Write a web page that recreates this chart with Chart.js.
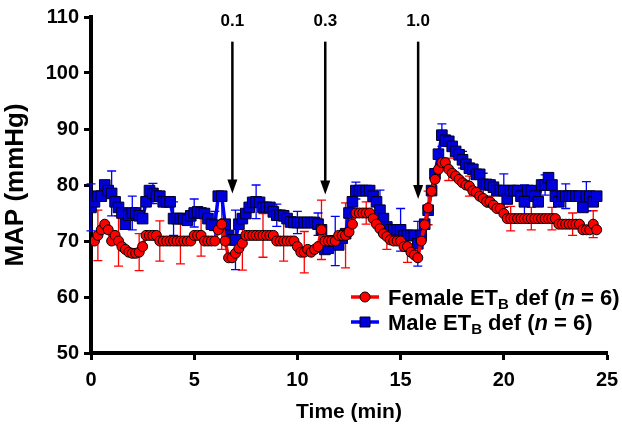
<!DOCTYPE html>
<html>
<head>
<meta charset="utf-8">
<script src="https://cdn.jsdelivr.net/npm/chart.js@4.4.0/dist/chart.umd.min.js"></script>
<style>
    html, body { margin: 0; padding: 0; background: #fff; }
    #wrap { width: 622px; height: 431px; }
</style>
</head>
<body>
<div id="wrap"><canvas id="mapChart" width="622" height="431"></canvas></div>
<script>
    'use strict';

    // MAP readings every 10 s (1/6 min)
    const femaleMap = [
        70, 70, 71, 72, 73, 72, 70, 71, 70, 69, 68.5, 68,
        67.8, 67.8, 68, 69, 71, 71, 71, 71, 70, 70, 70, 70,
        70, 70, 70, 70, 70, 70, 71, 71, 71, 70, 70, 70,
        70, 72, 73, 70, 67, 67, 67.8, 68.7, 69.6, 71, 71, 71,
        71, 71, 71, 71, 71, 71, 70, 70, 70, 70, 70, 70,
        69, 68, 68, 68.5, 68, 68.5, 69, 72, 70, 70, 70, 70,
        71, 71, 71, 71.6, 73, 75, 75, 75, 75, 75, 74, 73,
        72.2, 71.3, 70.8, 70.2, 70, 70, 70, 69, 69, 68, 67.5, 67,
        70, 72.9, 75.9, 78.9, 81, 82.8, 84, 84, 82.8, 82.1, 81.6, 81,
        80.4, 80, 79.8, 79, 78.7, 78, 77.6, 77, 77, 76.4, 75.8, 75.8,
        74.9, 74, 74, 74, 74, 74, 74, 74, 74, 74, 74, 74,
        74, 74, 74, 74, 73, 73, 73, 73, 73, 73, 73, 72,
        72, 72, 73, 72
    ];
    const maleMap = [
        76, 77, 78, 78, 80, 79, 78.5, 77, 76, 75, 73, 74.6,
        75, 75, 74.5, 74, 77, 79, 78.5, 78, 78, 77, 77, 77,
        74, 74, 74, 74, 73.7, 74.5, 75, 75.2, 75, 74.9, 74, 73,
        72.8, 78, 78, 73, 71, 70.2, 70.2, 73, 74, 74.9, 76, 76.9,
        77, 76.9, 76, 76, 76, 75.2, 74.6, 74.6, 74.5, 74, 73.4, 73.3,
        73.3, 73.3, 73.3, 73.3, 73.3, 73.3, 73, 72, 68.5, 68.7, 70, 70,
        69.3, 70.5, 71.3, 75, 77, 79, 79, 79, 79, 79, 78, 77,
        75.5, 74, 72.5, 72, 72, 72, 72, 71, 71, 71, 71, 69.5,
        71, 73, 75.5, 79, 82, 85.5, 88.9, 88, 87.8, 86.9, 86, 85.4,
        84.5, 83.7, 83, 82.8, 81.9, 81.9, 80.1, 80.1, 80, 79.6, 79, 79,
        79, 77.5, 79, 79, 79, 78, 77, 79, 79, 78, 77, 80,
        80, 81.3, 80, 78, 77, 78, 78, 78, 78, 78, 78, 76,
        78, 78, 77, 78
    ];
    const sampleStep = 1 / 6; // minutes between readings

    // SEM bars are only drawn on some readings (index into the series above)
    const femaleSemIdx = [2, 8, 14, 20, 26, 32, 38, 44, 50, 56, 62, 67, 74, 80, 86, 92, 98, 104, 110, 116, 122, 128, 134, 140, 146];
    const femaleSem = [4.5, 4.5, 3.3, 3.6, 4.1, 3.7, 4.5, 4.8, 3.9, 3.6, 3.7, 5.3, 5.8, 2, 2.3, 2.8, 3, 2, 1.8, 1, 2.2, 2, 2, 2, 2.4];
    const maleSemIdx = [0, 6, 12, 18, 24, 30, 36, 42, 48, 54, 60, 66, 71, 77, 84, 90, 95, 102, 108, 114, 120, 126, 132, 138, 144];
    const maleSem = [4.2, 4, 3, 1.8, 3, 2.5, 2.5, 5.3, 3, 2, 2, 2, 4.4, 1.5, 3.6, 3.8, 4, 2, 1.5, 2, 3, 3, 1.8, 2.2, 2.6];

    // Dose arrows (time in min, arrow tip in mmHg)
    const doseLabels = ['0.1', '0.3', '1.0'];
    const doseTimes = [6.85, 11.35, 15.85];
    const doseTips = [78.5, 78.3, 77.5];

    const xTicks = [0, 5, 10, 15, 20, 25];
    const yTicks = [50, 60, 70, 80, 90, 100, 110];

    const FONT = '"Liberation Sans", Arial, sans-serif';

    function toPoints(values) {
        return values.map(function(v, i) { return { x: i * sampleStep, y: v }; });
    }

    const errorBarPlugin = {
        id: 'errorBars',
        beforeDatasetsDraw: function(chart) {
            const ctx = chart.ctx;
            const xs = chart.scales.x;
            const ys = chart.scales.y;
            chart.data.datasets.forEach(function(ds) {
                ctx.save();
                ctx.strokeStyle = ds.barColor;
                ctx.lineWidth = 1.3;
                ds.semIdx.forEach(function(idx, j) {
                    const p = ds.data[idx];
                    const px = xs.getPixelForValue(p.x);
                    const top = ys.getPixelForValue(p.y + ds.sem[j]);
                    const bot = ys.getPixelForValue(p.y - ds.sem[j]);
                    ctx.beginPath();
                    ctx.moveTo(px, top); ctx.lineTo(px, bot);
                    ctx.moveTo(px - 4.5, top); ctx.lineTo(px + 4.5, top);
                    ctx.moveTo(px - 4.5, bot); ctx.lineTo(px + 4.5, bot);
                    ctx.stroke();
                });
                ctx.restore();
            });
        }
    };

    const arrowPlugin = {
        id: 'doseArrows',
        afterDraw: function(chart) {
            const ctx = chart.ctx;
            const xs = chart.scales.x;
            const ys = chart.scales.y;
            ctx.save();
            ctx.fillStyle = '#000';
            ctx.strokeStyle = '#000';
            ctx.lineWidth = 2.5;
            ctx.font = 'bold 17px ' + FONT;
            ctx.textAlign = 'center';
            ctx.textBaseline = 'alphabetic';
            doseTimes.forEach(function(t, i) {
                const px = xs.getPixelForValue(t);
                const tip = ys.getPixelForValue(doseTips[i]);
                const start = ys.getPixelForValue(105.6);
                ctx.beginPath();
                ctx.moveTo(px, start);
                ctx.lineTo(px, tip - 12);
                ctx.stroke();
                ctx.beginPath();
                ctx.moveTo(px - 5, tip - 14);
                ctx.lineTo(px + 5, tip - 14);
                ctx.lineTo(px, tip);
                ctx.closePath();
                ctx.fill();
                ctx.fillText(doseLabels[i], px, ys.getPixelForValue(108.4));
            });
            ctx.restore();
        }
    };

    // legend drawn by hand for the subscript B and italic n
    const legendPlugin = {
        id: 'subLegend',
        afterDraw: function(chart) {
            const ctx = chart.ctx;
            const rows = [
                { ds: chart.data.datasets[0], head: 'Female ET', y: 297 },
                { ds: chart.data.datasets[1], head: 'Male ET', y: 322 }
            ];
            ctx.save();
            rows.forEach(function(row) {
                ctx.strokeStyle = row.ds.borderColor;
                ctx.lineWidth = 3.5;
                ctx.beginPath();
                ctx.moveTo(351, row.y); ctx.lineTo(379, row.y);
                ctx.stroke();
                ctx.fillStyle = row.ds.pointBackgroundColor;
                ctx.strokeStyle = row.ds.pointBorderColor;
                ctx.lineWidth = 1;
                ctx.beginPath();
                if (row.ds.pointStyle === 'rect') {
                    ctx.rect(360, row.y - 5, 10, 10);
                } else {
                    ctx.arc(365, row.y, 5, 0, Math.PI * 2);
                }
                ctx.fill(); ctx.stroke();

                ctx.fillStyle = '#000';
                ctx.textBaseline = 'alphabetic';
                ctx.textAlign = 'left';
                let x = 388;
                const base = row.y + 8;
                ctx.font = 'bold 22px ' + FONT;
                ctx.fillText(row.head, x, base);
                x += ctx.measureText(row.head).width;
                ctx.font = 'bold 15px ' + FONT;
                ctx.fillText('B', x, base + 4);
                x += ctx.measureText('B').width;
                ctx.font = 'bold 22px ' + FONT;
                ctx.fillText(' def (', x, base);
                x += ctx.measureText(' def (').width;
                ctx.font = 'italic bold 22px ' + FONT;
                ctx.fillText('n', x, base);
                x += ctx.measureText('n').width;
                ctx.font = 'bold 22px ' + FONT;
                ctx.fillText(' = 6)', x, base);
            });
            ctx.restore();
        }
    };

    const ctx = document.getElementById('mapChart').getContext('2d');
    new Chart(ctx, {
        type: 'line',
        data: {
            datasets: [
                {
                    label: 'Female ETB def (n = 6)',
                    data: toPoints(femaleMap),
                    semIdx: femaleSemIdx,
                    sem: femaleSem,
                    barColor: '#ff0000',
                    borderColor: '#ff0000',
                    borderWidth: 3.5,
                    pointStyle: 'circle',
                    pointRadius: 5,
                    pointBackgroundColor: '#ff0000',
                    pointBorderColor: '#000000',
                    pointBorderWidth: 1,
                    tension: 0
                },
                {
                    label: 'Male ETB def (n = 6)',
                    data: toPoints(maleMap),
                    semIdx: maleSemIdx,
                    sem: maleSem,
                    barColor: '#0000ff',
                    borderColor: '#0000ff',
                    borderWidth: 3.5,
                    pointStyle: 'rect',
                    pointRadius: 7.5,
                    pointBackgroundColor: '#0000dd',
                    pointBorderColor: '#000022',
                    pointBorderWidth: 1,
                    tension: 0
                }
            ]
        },
        options: {
            responsive: false,
            animation: false,
            layout: { padding: { left: 0, top: 12, right: 0, bottom: 0 } },
            plugins: {
                legend: { display: false },
                tooltip: { enabled: false }
            },
            scales: {
                x: {
                    type: 'linear',
                    min: 0,
                    max: 25,
                    afterFit: function(scale) {
                        scale.height = 78;
                        scale.paddingLeft = 0;
                        scale.paddingRight = 15;
                    },
                    afterBuildTicks: function(scale) {
                        scale.ticks = xTicks.map(function(v) { return { value: v }; });
                    },
                    grid: { drawOnChartArea: false, tickLength: 7, tickWidth: 3, tickColor: '#000' },
                    border: { color: '#000', width: 4 },
                    ticks: {
                        color: '#000',
                        padding: 8,
                        font: { family: FONT, size: 20, weight: 'bold' }
                    },
                    title: {
                        display: true,
                        text: 'Time (min)',
                        color: '#000',
                        padding: { top: 0, bottom: 6 },
                        font: { family: FONT, size: 21, weight: 'bold' }
                    }
                },
                y: {
                    min: 50,
                    max: 110,
                    afterFit: function(scale) { scale.width = 91; },
                    afterBuildTicks: function(scale) {
                        scale.ticks = yTicks.map(function(v) { return { value: v }; });
                    },
                    grid: { drawOnChartArea: false, tickLength: 7, tickWidth: 3, tickColor: '#000' },
                    border: { color: '#000', width: 4 },
                    ticks: {
                        color: '#000',
                        padding: 5,
                        font: { family: FONT, size: 20, weight: 'bold' }
                    },
                    title: {
                        display: true,
                        text: 'MAP (mmHg)',
                        color: '#000',
                        padding: { top: 0, bottom: 0 },
                        font: { family: FONT, size: 26, weight: 'bold' }
                    }
                }
            }
        },
        plugins: [errorBarPlugin, arrowPlugin, legendPlugin]
    });
</script>
</body>
</html>
